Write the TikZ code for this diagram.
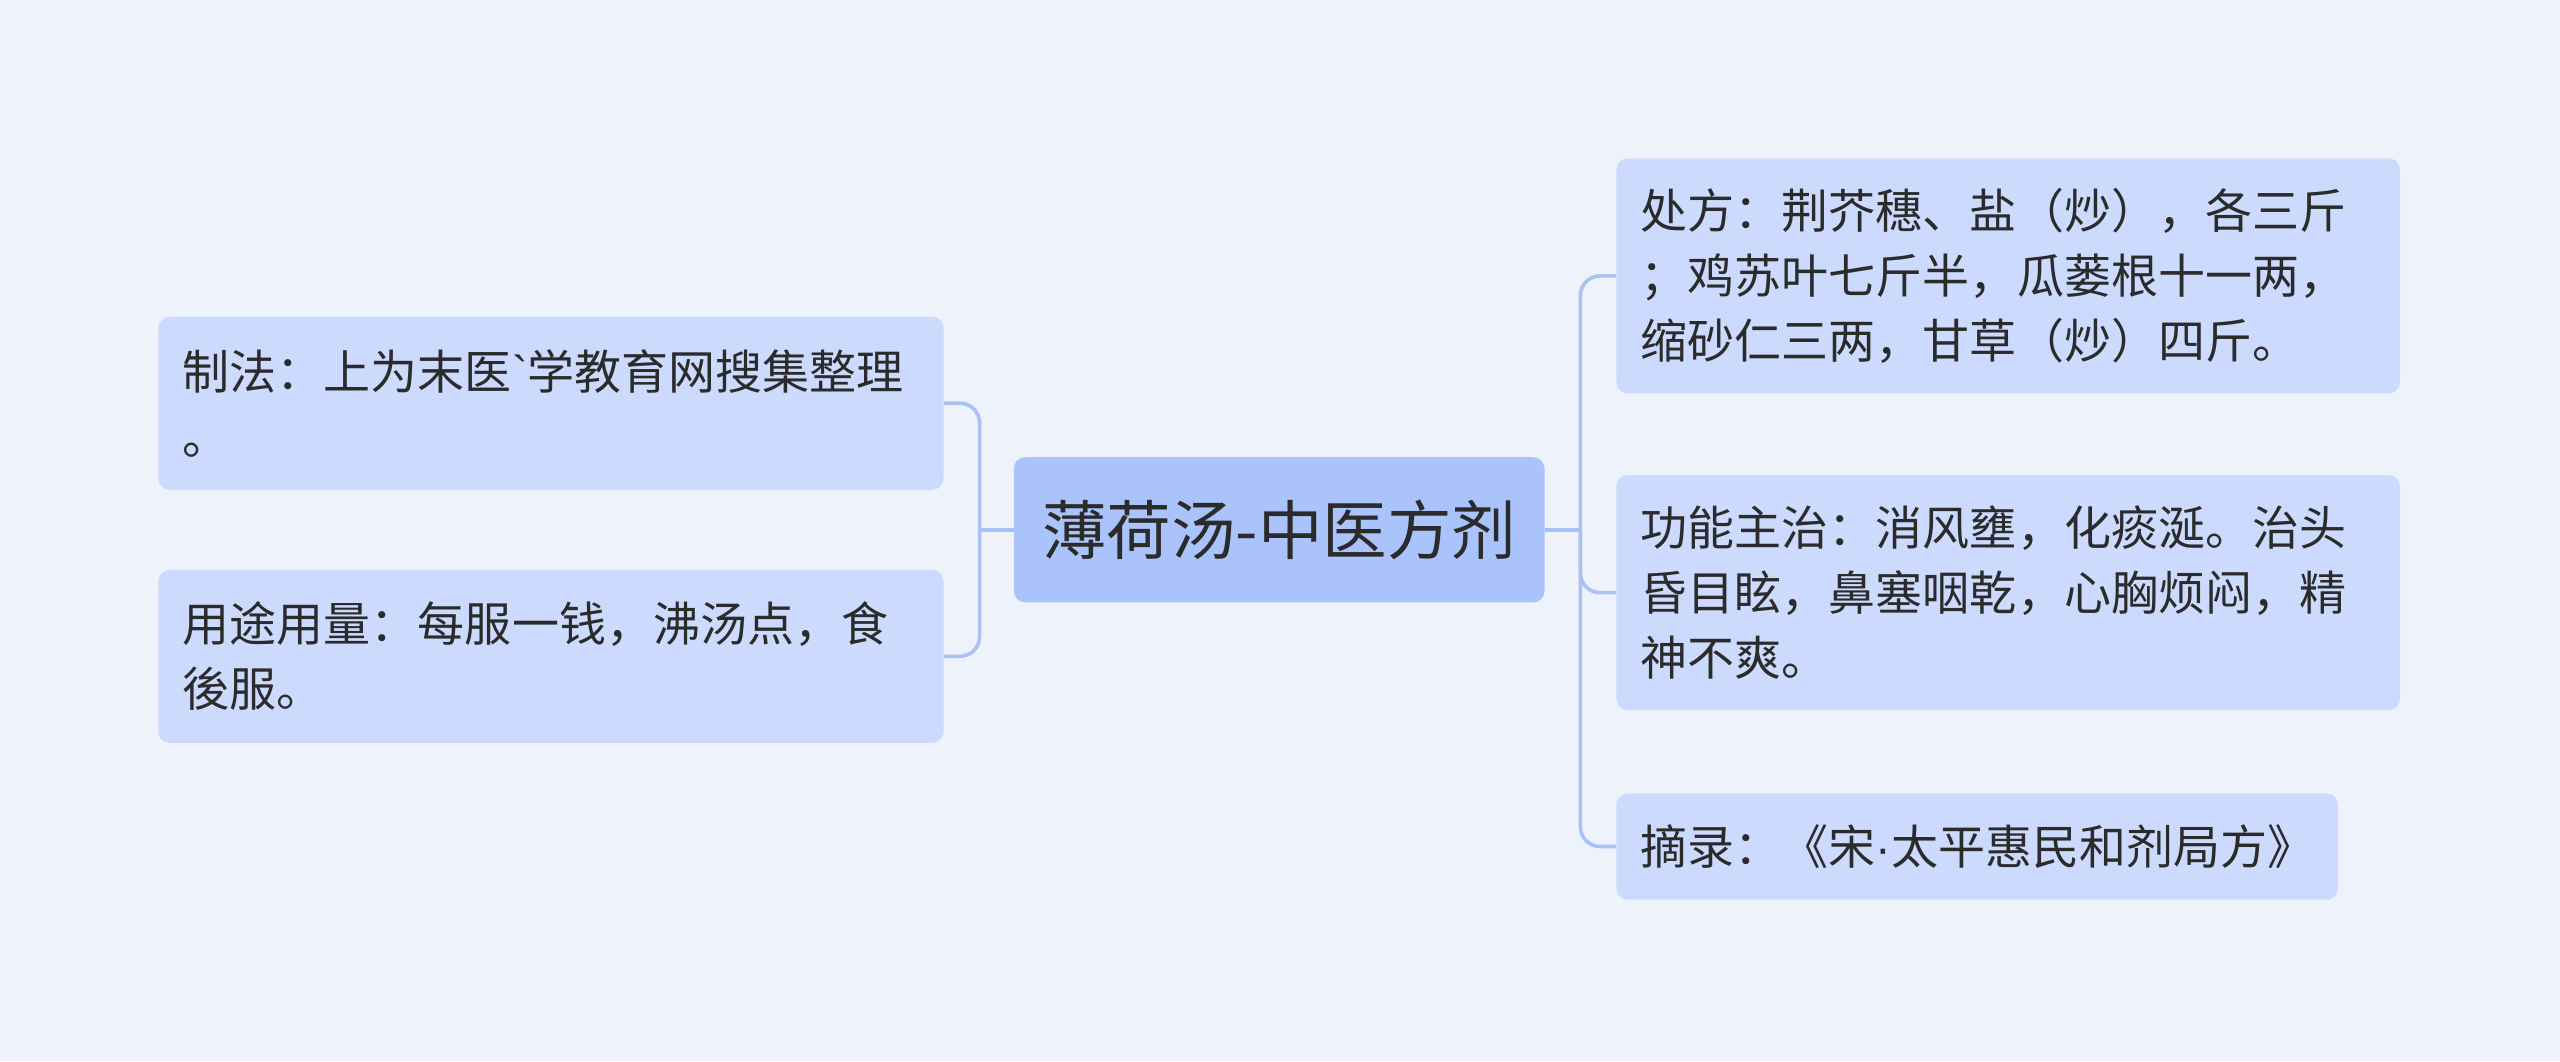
\documentclass[tikz,border=0pt]{standalone}
\usepackage{fontspec}
\setmainfont{Noto Sans CJK SC}
\newfontfamily\latf{Liberation Sans}
\begin{document}
\begin{tikzpicture}[x=1pt,y=-1pt,
  leaf/.style={draw=none,fill=leafc,rounded corners=7pt,align=left,inner sep=0pt,
    font=\fontsize{28.8}{40}\selectfont,text=textc},
  link/.style={draw=linkc,line width=2.2pt,rounded corners=12pt}]
\definecolor{bgc}{HTML}{EEF3FB}
\definecolor{leafc}{HTML}{CCDBFD}
\definecolor{rootc}{HTML}{AAC3FB}
\definecolor{linkc}{HTML}{A9C2F5}
\definecolor{textc}{HTML}{2B2B2B}
\fill[bgc] (0,0) rectangle (1568,650);
\useasboundingbox (0,0) rectangle (1568,650);
\node[leaf,fill=rootc,minimum width=325pt,minimum height=89pt,font=\fontsize{39.5}{44}\selectfont,align=center] (root) at (783.5,324.5) {薄荷汤-中医方剂};
\node[leaf,minimum width=481pt,minimum height=106pt,text width=451pt] (l1) at (337.5,247) {制法：上为末医{\latf\char`\`}学教育网搜集整理\\。};
\node[leaf,minimum width=481pt,minimum height=106pt,text width=451pt] (l2) at (337.5,402) {用途用量：每服一钱，沸汤点，食\\後服。};
\node[leaf,minimum width=480pt,minimum height=144pt,text width=450pt] (r1) at (1230,169) {处方：荆芥穗、盐（炒），各三斤\\；鸡苏叶七斤半，瓜蒌根十一两，\\缩砂仁三两，甘草（炒）四斤。};
\node[leaf,minimum width=480pt,minimum height=144pt,text width=450pt] (r2) at (1230,363) {功能主治：消风壅，化痰涎。治头\\昏目眩，鼻塞咽乾，心胸烦闷，精\\神不爽。};
\node[leaf,minimum width=442pt,minimum height=65pt,text width=412pt] (r3) at (1211,518.5) {摘录：《宋{\latf ·}太平惠民和剂局方》};
\coordinate (jr) at (968,324.5);
\coordinate (jl) at (600,324.5);
\draw[link] (root.east) -- (jr);
\draw[link] (root.west) -- (jl);
\draw[link] (jr) |- (r1.west);
\draw[link] (jr) |- (r2.west);
\draw[link] (jr) |- (r3.west);
\draw[link] (jl) |- (l1.east);
\draw[link] (jl) |- (l2.east);
\end{tikzpicture}
\end{document}
